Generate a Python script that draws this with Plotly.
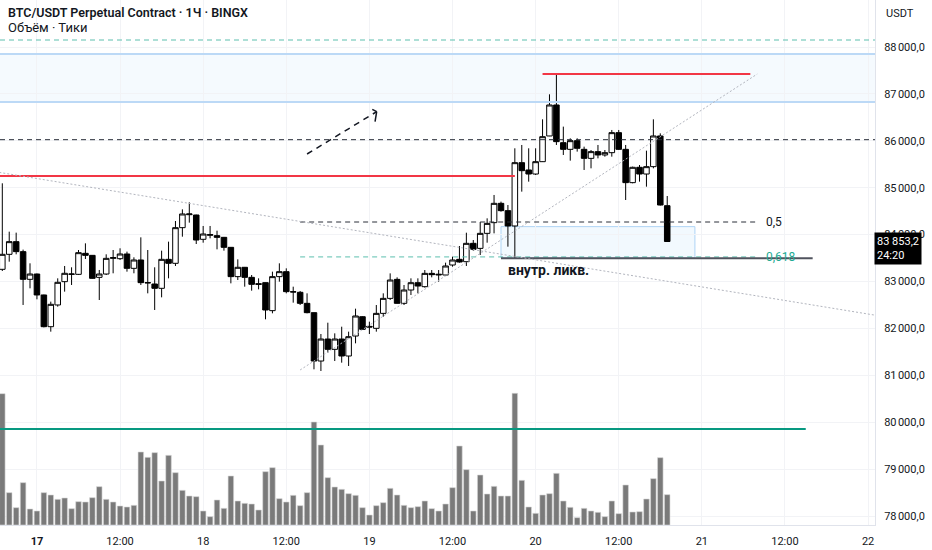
import pandas as pd
import plotly.graph_objects as go

# --- hourly BTC/USDT candles, 16 Mar 19:00 -> 20 Mar 19:00 ---
start_time = "2025-03-16 19:00"
opens = [83260, 83580, 83850, 83637, 83047, 83160, 82713, 82037, 82500, 82997,
         83153, 83153, 83601, 83558, 83089, 83160, 83494, 83487, 83587, 83281,
         83459, 82969, 82947, 82855, 83473, 83388, 84148, 84425, 84418, 83900,
         83985, 83978, 83942, 83729, 83104, 83303, 83089, 82954, 82976, 82379,
         83104, 83210, 82784, 82770, 82535, 82336, 81305, 81774, 81554, 81774,
         81412, 81838, 82250, 82044, 82002, 82321, 82641, 83046, 82535, 82819,
         82975, 82890, 83174, 83139, 83139, 83352, 83473, 83423, 83814, 83707,
         84027, 84255, 84667, 84511, 84184, 85534, 85378, 85292, 85555, 86103,
         86764, 85960, 85818, 86003, 85818, 85626, 85769, 85698, 85747, 86174,
         85818, 85108, 85435, 85292, 85449, 86103, 84617]
highs = [85094, 84063, 84042, 83680, 83388, 83170, 82720, 82571, 83068, 83331,
         83303, 83672, 83814, 83560, 83246, 83580, 83672, 83708, 83637, 83516,
         83942, 83672, 83303, 83658, 83850, 84290, 84539, 84688, 84425, 84184,
         84184, 84084, 83950, 83735, 83473, 83310, 83139, 83068, 82980, 83210,
         83388, 83281, 82890, 82798, 82748, 82340, 81881, 82122, 81895, 82037,
         81931, 82421, 82260, 82144, 82499, 82748, 83174, 83089, 82926, 83068,
         83068, 83245, 83245, 83245, 83402, 83530, 83757, 84041, 83885, 84269,
         84347, 84845, 84703, 84631, 85840, 85911, 85840, 85840, 86458, 86991,
         87420, 86302, 86053, 86053, 85875, 85804, 85911, 85804, 86231, 86231,
         85911, 85449, 85484, 85790, 86458, 86159, 84823]
lows = [83224, 83423, 83580, 82500, 82855, 82620, 82023, 81931, 82464, 82784,
        82926, 83140, 83480, 83060, 82606, 83139, 83175, 83459, 83210, 83175,
        82926, 82748, 82393, 82663, 83068, 83331, 83956, 84255, 83800, 83828,
        83921, 83686, 83658, 82961, 83032, 82890, 82805, 82833, 82194, 82322,
        82997, 82748, 82549, 82500, 82322, 81128, 81092, 81483, 81305, 81270,
        81199, 81682, 81966, 81881, 81931, 82250, 82606, 82530, 82499, 82712,
        82748, 82869, 83089, 82997, 83117, 83316, 83402, 83331, 83657, 83565,
        83828, 84027, 84489, 83743, 83494, 84916, 85129, 85271, 85550, 86100,
        85911, 85698, 85577, 85769, 85378, 85413, 85626, 85662, 85662, 85804,
        84738, 85094, 85129, 85022, 85413, 84620, 83853.2]
closes = [83580, 83850, 83637, 83047, 83160, 82713, 82037, 82514, 82983, 83175,
          83160, 83615, 83558, 83068, 83160, 83494, 83509, 83587, 83281, 83459,
          82976, 82976, 82855, 83473, 83388, 84148, 84440, 84440, 83885, 84013,
          84000, 83942, 83729, 83104, 83303, 83089, 82940, 82940, 82393, 83104,
          83210, 82784, 82777, 82535, 82336, 81305, 81774, 81554, 81774, 81412,
          81824, 82265, 81980, 82030, 82321, 82641, 83032, 82535, 82819, 82975,
          82904, 83174, 83146, 83153, 83331, 83459, 83416, 83814, 83686, 84027,
          84240, 84667, 84511, 84184, 85534, 85363, 85292, 85555, 86088, 86764,
          85982, 85818, 86003, 85840, 85626, 85769, 85698, 85747, 86174, 85818,
          85108, 85435, 85292, 85449, 86103, 84631, 83853.2]
volumes = [394, 97, 52, 127, 48, 42, 97, 90, 77, 81,
           49, 70, 69, 82, 115, 77, 69, 57, 54, 59,
           219, 203, 217, 132, 209, 157, 104, 87, 85, 42,
           25, 75, 50, 147, 72, 65, 63, 45, 160, 172,
           79, 69, 89, 58, 97, 309, 240, 142, 114, 107,
           94, 89, 52, 30, 58, 67, 110, 90, 59, 52,
           55, 72, 49, 42, 63, 112, 237, 166, 42, 150,
           93, 116, 87, 87, 395, 134, 54, 35, 90, 94,
           155, 72, 53, 22, 50, 42, 38, 25, 72, 34,
           120, 39, 40, 78, 139, 202, 91]

last_price = "83 853,2"
countdown = "24:20"

# axis ticks
price_ticks = [78000, 79000, 80000, 81000, 82000, 83000, 84000, 85000, 86000, 87000, 88000]
time_ticks = ["2025-03-17", "2025-03-17 12:00", "2025-03-18", "2025-03-18 12:00",
              "2025-03-19", "2025-03-19 12:00", "2025-03-20", "2025-03-20 12:00",
              "2025-03-21", "2025-03-21 12:00", "2025-03-22"]
time_labels = ["<b>17</b>", "12:00", "18", "12:00", "19", "12:00", "20", "12:00",
               "21", "12:00", "22"]

# drawings (time, price)
zone_top, zone_bottom = 87851, 86827
dashed_top_level = 88149
dashed_mid_level = 86024
red_high_level, red_high_span = 87424, ("2025-03-20 01:00", "2025-03-21 07:00")
red_low_level, red_low_end = 85250, "2025-03-19 21:00"
volume_level, volume_level_end = 79856, "2025-03-21 15:00"
fib_low = ("2025-03-18 14:00", 81114)
fib_high = ("2025-03-21 08:00", 87424)
fib_levels = [0.5, 0.618]
fib_labels = ["0,5", "0,618"]
down_trend = [("2025-03-16 18:00", 85340), ("2025-03-22 01:00", 82283)]
liq_level, liq_span = 83494, ("2025-03-19 19:00", "2025-03-21 16:00")
liq_box = ("2025-03-19 19:00", "2025-03-20 23:00", 84170, 83505)
arrow_tail = ("2025-03-18 15:00", 85719)
arrow_tip = ("2025-03-19 01:03", 86621)
arrow_wings = [("2025-03-19 00:25", 86672), ("2025-03-19 00:49", 86407)]

times = pd.date_range(start_time, periods=len(closes), freq="h")


def fmt_price(value):
    return f"{value:,.1f}".replace(",", "\u202f").replace(".", ",")


fig = go.Figure()

fig.add_trace(go.Bar(
    x=times, y=volumes, yaxis="y2", width=2_880_000,
    marker=dict(color="#7a7a7a", line=dict(color="#d6d6d6", width=0.6)),
    hoverinfo="skip", showlegend=False,
))
fig.add_trace(go.Candlestick(
    x=times, open=opens, high=highs, low=lows, close=closes,
    increasing=dict(line=dict(color="#000000", width=1), fillcolor="#ffffff"),
    decreasing=dict(line=dict(color="#000000", width=1), fillcolor="#000000"),
    whiskerwidth=0, showlegend=False,
))

shapes = []


def hline(x0, x1, level, color, width=1, dash="solid", xref="x"):
    shapes.append(dict(type="line", xref=xref, yref="y", x0=x0, x1=x1, y0=level, y1=level,
                       line=dict(color=color, width=width, dash=dash)))


def seg(p0, p1, color, width=1, dash="solid"):
    shapes.append(dict(type="line", xref="x", yref="y", x0=p0[0], y0=p0[1], x1=p1[0], y1=p1[1],
                       line=dict(color=color, width=width, dash=dash)))


# blue zone across the whole chart
shapes.append(dict(type="rect", xref="paper", yref="y", x0=0, x1=1, y0=zone_bottom, y1=zone_top,
                   fillcolor="rgba(33,150,243,0.045)", line=dict(width=0), layer="below"))
hline(0, 1, zone_top, "#bcd9f6", 2, xref="paper")
hline(0, 1, zone_bottom, "#bcd9f6", 2, xref="paper")

hline(0, 1, dashed_top_level, "#5cbfae", 1, "5px,4px", xref="paper")
hline(0, 1, dashed_mid_level, "#2a2e39", 1, "5px,4px", xref="paper")
hline(red_high_span[0], red_high_span[1], red_high_level, "#f23645", 2)
hline("2025-03-16 12:00", red_low_end, red_low_level, "#f23645", 2)
hline("2025-03-16 12:00", volume_level_end, volume_level, "#089981", 2)

# liquidity box + line
shapes.append(dict(type="rect", xref="x", yref="y", x0=liq_box[0], x1=liq_box[1],
                   y0=liq_box[3], y1=liq_box[2], fillcolor="rgba(33,150,243,0.06)",
                   line=dict(color="#aed4f5", width=1), layer="below"))

# fibonacci retracement
fib_range = fib_high[1] - fib_low[1]
fib_colors = ["#2a2e39", "#5cbfae"]
for lvl, col in zip(fib_levels, fib_colors):
    hline(fib_low[0], fib_high[0], fib_high[1] - lvl * fib_range, col, 1, "5px,4px")
seg(fib_low, fib_high, "#b2b5be", 1, "2px,2px")
hline(liq_span[0], liq_span[1], liq_level, "#50535e", 2)

seg(down_trend[0], down_trend[1], "#b2b5be", 1, "2px,2px")

# dashed arrow
seg(arrow_tail, arrow_tip, "#131722", 1.5, "6px,5px")
for wing in arrow_wings:
    seg(wing, arrow_tip, "#131722", 1.5)

annotations = [
    dict(xref="paper", yref="paper", x=0, y=1, xshift=6, yshift=-12, xanchor="left", yanchor="middle",
         text="BTC/USDT Perpetual Contract · 1Ч · BINGX", showarrow=False,
         font=dict(size=12.5, color="#131722", weight=600)),
    dict(xref="paper", yref="paper", x=0, y=1, xshift=6, yshift=-27, xanchor="left", yanchor="middle",
         text="Объём · Тики", showarrow=False, font=dict(size=13, color="#131722")),
    dict(xref="paper", yref="paper", x=1, y=1, xshift=9, yshift=-13, xanchor="left", yanchor="middle",
         text="USDT", showarrow=False, font=dict(size=11, color="#131722")),
    dict(xref="x", yref="y", x=liq_span[0], y=liq_level, xshift=5, yshift=-12, xanchor="left",
         yanchor="middle", text="внутр. ликв.", showarrow=False,
         font=dict(size=14, color="#131722", weight="bold")),
    dict(xref="paper", yref="y", x=1, y=closes[-1], xshift=-1, yshift=-7, xanchor="left",
         yanchor="middle", text=f"{last_price}<br>{countdown}", showarrow=False, align="left",
         bgcolor="#000000", borderpad=2, font=dict(size=11, color="#ffffff")),
]
for lvl, label, col in zip(fib_levels, fib_labels, ["#131722", "#22ab94"]):
    annotations.append(dict(xref="x", yref="y", x=fib_high[0], y=fib_high[1] - lvl * fib_range,
                            xshift=7, xanchor="left", yanchor="middle", text=label,
                            showarrow=False, font=dict(size=12, color=col)))

fig.update_layout(
    width=932, height=550,
    margin=dict(l=0, r=57, t=0, b=25, autoexpand=False),
    paper_bgcolor="#ffffff", plot_bgcolor="#ffffff",
    font=dict(family="Roboto, 'Noto Sans', sans-serif", color="#131722", size=11),
    shapes=shapes, annotations=annotations,
    boxgap=0.2, boxgroupgap=0,
    xaxis=dict(type="date", range=["2025-03-16 18:40", "2025-03-22 01:00"],
               tickvals=time_ticks, ticktext=time_labels, tickangle=0,
               showgrid=True, gridcolor="#f2f3f6", ticks="", ticklabelstandoff=6,
               showline=True, linecolor="#e0e3eb", linewidth=1, mirror=False,
               rangeslider=dict(visible=False), zeroline=False, fixedrange=True),
    yaxis=dict(side="right", range=[77809, 89002], tickvals=price_ticks,
               ticktext=[fmt_price(p) for p in price_ticks],
               showgrid=True, gridcolor="#f2f3f6", ticks="", ticklabelstandoff=6,
               showline=True, linecolor="#e0e3eb", linewidth=1, zeroline=False),
    yaxis2=dict(overlaying="y", range=[0, 1575], visible=False, fixedrange=True),
)

# the page is photographed at 932x550, so drop the default body margin
fig.write_html("out.html", config={"displayModeBar": False},
               post_script="document.body.style.margin = '0';")
